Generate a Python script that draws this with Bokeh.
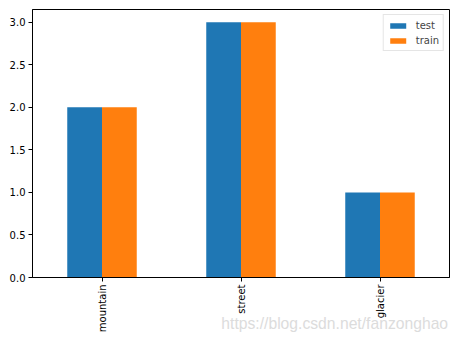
import math
from bokeh.plotting import figure
from bokeh.models import FactorRange, Range1d, FixedTicker, PrintfTickFormatter, ColumnDataSource, Legend, LegendItem
from bokeh.transform import dodge
from bokeh.embed import file_html
from bokeh.resources import INLINE

categories = ["mountain", "street", "glacier"]
test_values = [2, 3, 1]
train_values = [2, 3, 1]
series_names = ["test", "train"]
y_ticks = [0.0, 0.5, 1.0, 1.5, 2.0, 2.5, 3.0]
watermark = "https://blog.csdn.net/fanzonghao"

src = ColumnDataSource(dict(cat=categories, test=test_values, train=train_values))

p = figure(width=464, height=340, output_backend="svg", toolbar_location=None,
           x_range=FactorRange(*categories, range_padding=0), y_range=Range1d(0, 3.15),
           min_border_left=32, min_border_right=15, min_border_top=9, min_border_bottom=63)

r1 = p.vbar(x=dodge("cat", -0.125, range=p.x_range), top="test", width=0.25, source=src,
            color="#1f77b4", line_color=None)
r2 = p.vbar(x=dodge("cat", 0.125, range=p.x_range), top="train", width=0.25, source=src,
            color="#ff7f0e", line_color=None)

p.xgrid.visible = False
p.ygrid.visible = False
p.outline_line_color = "black"
p.outline_line_width = 1
p.outline_line_alpha = 1

for ax in (p.xaxis[0], p.yaxis[0]):
    ax.axis_line_color = "black"
    ax.major_tick_line_color = "black"
    ax.major_tick_out = 4
    ax.major_tick_in = 0
    ax.minor_tick_line_color = None
    ax.major_label_text_font = "DejaVu Sans"
    ax.major_label_text_font_size = "10px"
    ax.major_label_text_color = "black"
    ax.major_label_standoff = 3

p.yaxis.ticker = FixedTicker(ticks=y_ticks)
p.yaxis.formatter = PrintfTickFormatter(format="%.1f")
p.xaxis.major_label_orientation = math.pi / 2
p.xaxis.group_text_font_size = "0px"

# watermark as x-axis label, pulled up alongside the rotated tick labels;
# centred under the frame, leading no-break spaces push the visible glyphs
# to the right so they end just inside the frame's right edge
p.xaxis.axis_label = "\u00a0" * 43 + watermark
p.xaxis.axis_label_text_font = "Liberation Sans"
p.xaxis.axis_label_text_font_size = "15.7px"
p.xaxis.axis_label_text_font_style = "normal"
p.xaxis.axis_label_text_color = "#dcdcdc"
p.xaxis.axis_label_standoff = -20
p.xaxis.axis_label_align = "center"

legend = Legend(items=[LegendItem(label=series_names[0], renderers=[r1]),
                       LegendItem(label=series_names[1], renderers=[r2])],
                location="top_right", glyph_width=20, glyph_height=7,
                label_text_font="DejaVu Sans", label_text_font_size="10px",
                label_height=12, spacing=3, padding=4, margin=5,
                border_line_color="#cccccc", border_line_width=1,
                background_fill_alpha=0.8, label_standoff=8)
p.add_layout(legend)

open("out.html", "w").write(file_html(p, INLINE))
